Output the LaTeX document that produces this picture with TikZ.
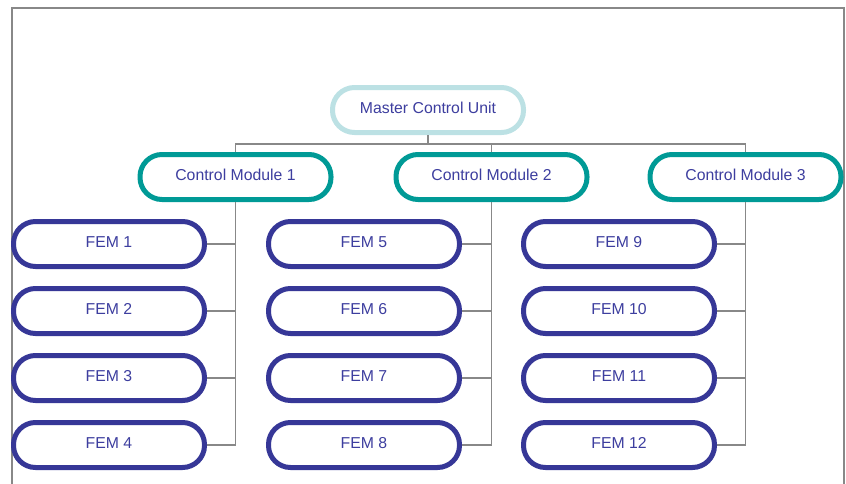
\documentclass[tikz,border=0pt]{standalone}
\usepackage{fontspec}
\setmainfont{Liberation Sans}
\definecolor{tealc}{HTML}{009A96}
\definecolor{lightc}{HTML}{BCE1E4}
\definecolor{navyc}{HTML}{363797}
\definecolor{textc}{HTML}{3D3E9F}
\definecolor{linec}{HTML}{888888}
\begin{document}
\begin{tikzpicture}[x=1pt,y=-1pt,
  pill/.style={draw, line width=5pt, fill=white, rounded corners=22pt,
    minimum width=191pt, minimum height=45pt, inner sep=0pt,
    text height=11.5pt, text depth=5pt,
    text=textc, font=\fontsize{15.8}{18}\selectfont},
  masterbox/.style={pill, draw=lightc},
  cmbox/.style={pill, draw=tealc},
  fembox/.style={pill, draw=navyc},
  conn/.style={draw=linec, line width=1.8pt},
  framebox/.style={draw=linec, line width=2pt}]
\useasboundingbox (0,0) rectangle (846,483);
\draw[framebox] (11.5,495) -- (11.5,7.5) -- (843.5,7.5) -- (843.5,495);
% nodes
\node[masterbox] (M) at (428,110) {Master Control Unit};
\node[cmbox] (C1) at (235.5,177) {Control Module 1};
\node[cmbox] (C2) at (491.5,177) {Control Module 2};
\node[cmbox] (C3) at (745.5,177) {Control Module 3};
\foreach \x/\n in {109/1,364/5,619/9}{
  \foreach \r/\y in {0/244,1/311,2/378,3/445}{
    \pgfmathtruncatemacro{\k}{\n+\r}
    \node[fembox] (F\k) at (\x,\y) {FEM \k};
  }
}
\coordinate (J) at (428,144);
% connectors
\draw[conn] (M.south) -- (J);
\draw[conn] (C1.north) |- (J) -| (C3.north);
\draw[conn] (C2.north) -- (C2.north |- J);
\foreach \c/\a/\b in {1/1/4,2/5/8,3/9/12}{
  \draw[conn] (C\c.south) -- (C\c.south |- F\b.east) -- (F\b.east);
  \foreach \k in {\a,...,\b}{
    \draw[conn] (F\k.east) -- (F\k.east -| C\c.south);
  }
}
\end{tikzpicture}
\end{document}
